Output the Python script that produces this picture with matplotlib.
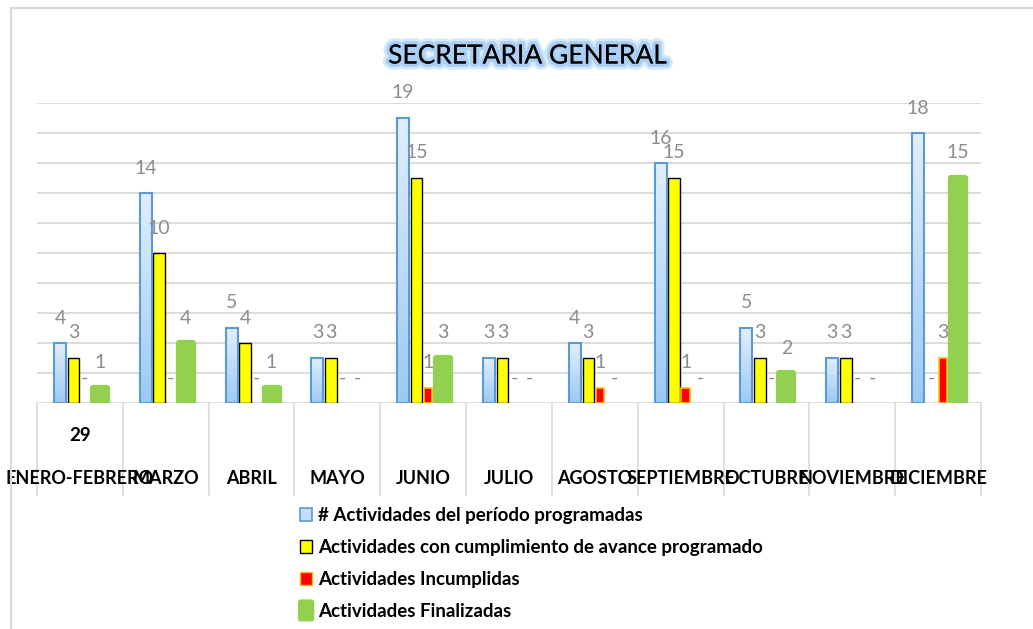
import numpy as np
import matplotlib
matplotlib.use("Agg")
import matplotlib.pyplot as plt
import matplotlib.patheffects as pe
from matplotlib.colors import LinearSegmentedColormap
from matplotlib.lines import Line2D
from matplotlib.patches import Rectangle, FancyBboxPatch
from matplotlib.legend_handler import HandlerPatch
from matplotlib.transforms import blended_transform_factory


meses = ["ENERO-FEBRERO", "MARZO", "ABRIL", "MAYO", "JUNIO", "JULIO", "AGOSTO",
         "SEPTIEMBRE", "OCTUBRE", "NOVIEMBRE", "DICIEMBRE"]
programadas = [4, 14, 5, 3, 19, 3, 4, 16, 5, 3, 18]
cumplimiento = [3, 10, 4, 3, 15, 3, 3, 15, 3, 3, 0]
incumplidas = [0, 0, 0, 0, 1, 0, 1, 1, 0, 0, 3]
finalizadas = [1, 4, 1, 0, 3, 0, 0, 0, 2, 0, 15]
series_nombres = [
    "# Actividades del período programadas",
    "Actividades con cumplimiento de avance programado",
    "Actividades Incumplidas",
    "Actividades Finalizadas",
]
titulo = "SECRETARIA GENERAL"
nota_enero = "29"

FONT = ["Lato", "DejaVu Sans"]
AZUL_BORDE = "#5b9bd5"
AMARILLO = "#ffff00"
ROJO = "#ff0000"
NARANJA = "#ffc000"
VERDE = "#92d050"
GRIS_GRID = "#d9d9d9"
GRIS_LABEL = "#8c8c8c"

plt.rcParams["font.family"] = FONT

W, H = 1033, 629
fig = plt.figure(figsize=(W / 100, H / 100), dpi=100)
ax = fig.add_axes([37 / W, 1 - 403 / H, (981 - 37) / W, (403 - 103) / H])

x = np.arange(len(meses))

# anchos y desplazamientos (en unidades de categoria)
w_azul, off_azul = 0.14, -0.233
w_amar, off_amar = 0.134, -0.076
w_rojo, off_rojo = 0.10, 0.058
w_verde, off_verde = 0.163, 0.233


def lw_list(vals, lw):
    return [lw if v > 0 else 0 for v in vals]


# serie azul con degradado
azul = ax.bar(x + off_azul, programadas, w_azul, color="#bdd7ee", linewidth=0, zorder=2)
grad = np.linspace(0, 1, 256).reshape(-1, 1)
cmap = LinearSegmentedColormap.from_list("azul", ["#9dc9f3", "#e2eefb"])
for rect in azul.patches:
    x0 = rect.get_x()
    im = ax.imshow(grad, cmap=cmap, origin="lower", aspect="auto", interpolation="bilinear",
                   extent=(x0, x0 + rect.get_width(), 0, rect.get_height()), zorder=2.1)
    im.set_clip_path(rect)
ax.bar(x + off_azul, programadas, w_azul, facecolor="none", edgecolor=AZUL_BORDE,
       linewidth=1.5, zorder=2.2)

ax.bar(x + off_amar, cumplimiento, w_amar, color=AMARILLO, edgecolor="black",
       linewidth=lw_list(cumplimiento, 1.0), zorder=2)
ax.bar(x + off_rojo, incumplidas, w_rojo, color=ROJO, edgecolor=NARANJA,
       linewidth=lw_list(incumplidas, 1.2), zorder=2)
ax.bar(x + off_verde, finalizadas, w_verde, color=VERDE, edgecolor=VERDE,
       linewidth=lw_list(finalizadas, 4.5), joinstyle="round", zorder=2)

# etiquetas de datos
for vals, off in [(programadas, off_azul), (cumplimiento, off_amar),
                  (incumplidas, off_rojo), (finalizadas, off_verde)]:
    for xi, v in zip(x, vals):
        ax.annotate(str(v) if v > 0 else "-", xy=(xi + off, v), xytext=(0, 18),
                    textcoords="offset points", ha="center", va="center",
                    fontsize=14, color=GRIS_LABEL, annotation_clip=False, zorder=4)

ax.set_xlim(-0.5, len(meses) - 0.5)
ax.set_ylim(0, 20)
ax.set_yticks(np.arange(0, 21, 2))
ax.set_xticks([])
ax.yaxis.grid(True, color=GRIS_GRID, linewidth=1.3)
ax.set_axisbelow(True)
ax.tick_params(axis="y", left=False, labelleft=False)
for s in ax.spines.values():
    s.set_visible(False)

# eje de categorias
trans = blended_transform_factory(ax.transData, ax.transAxes)
for b in np.arange(-0.5, len(meses), 1.0):
    ax.add_line(Line2D([b, b], [0, -0.305], transform=trans, color=GRIS_GRID,
                       linewidth=1.2, clip_on=False))
for xi, mes in zip(x, meses):
    ax.text(xi, -0.253, mes, transform=trans, ha="center", va="center",
            fontsize=13, fontweight="bold", color="black")
ax.text(x[0], -0.107, nota_enero, transform=trans, ha="center", va="center",
        fontsize=13.5, fontweight="bold", color="black")

# titulo con brillo
fig.text(527 / W, 1 - 56 / H, titulo, ha="center", va="center", fontsize=19, color="black",
         path_effects=[pe.withStroke(linewidth=9, foreground="#d6e8fa"),
                       pe.withStroke(linewidth=5, foreground="#a9cff5"),
                       pe.Normal()])

# marco exterior
fig.add_artist(Line2D([11 / W, 11 / W], [0, 1 - 8 / H], transform=fig.transFigure,
                      color=GRIS_GRID, linewidth=1.5))
fig.add_artist(Line2D([11 / W, 1], [1 - 8 / H, 1 - 8 / H], transform=fig.transFigure,
                      color=GRIS_GRID, linewidth=1.5))


# leyenda
def green_patch(legend, orig_handle, xdescent, ydescent, width, height, fontsize):
    return FancyBboxPatch((-xdescent - 1.5, -ydescent - 3), width + 3, height + 6,
                          boxstyle="round,pad=0,rounding_size=2",
                          facecolor=VERDE, edgecolor="none")


handles = [
    Rectangle((0, 0), 1, 1, facecolor="#c5def6", edgecolor=AZUL_BORDE, linewidth=1.2),
    Rectangle((0, 0), 1, 1, facecolor=AMARILLO, edgecolor="black", linewidth=1.0),
    Rectangle((0, 0), 1, 1, facecolor=ROJO, edgecolor=NARANJA, linewidth=1.0),
    Rectangle((0, 0), 1, 1, facecolor=VERDE, edgecolor="none"),
]
fig.legend(handles, series_nombres, loc="upper left", bbox_to_anchor=(300 / W, 1 - 507 / H),
           frameon=False, handlelength=0.65, handleheight=0.75, handletextpad=0.3,
           labelspacing=0.8, borderpad=0, borderaxespad=0,
           prop={"family": FONT, "weight": "bold", "size": 13.5},
           handler_map={handles[3]: HandlerPatch(patch_func=green_patch)})

fig.savefig("out.png", dpi=100)
